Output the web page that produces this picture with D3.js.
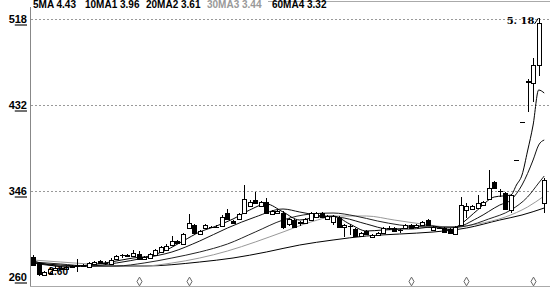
<!DOCTYPE html>
<html>
<head>
<meta charset="utf-8">
<script src="https://cdn.jsdelivr.net/npm/d3@7/dist/d3.min.js"></script>
<style>
  body { margin: 0; background: #fff; }
  svg { display: block; }
  .ma { fill: none; stroke-width: 1; }
  .legend text { font-family: "Liberation Sans Narrow", "Liberation Sans", Arial, sans-serif; font-weight: bold; font-size: 10px; }
  .ylab text { font-family: "Liberation Sans", Arial, sans-serif; font-weight: bold; font-size: 11px; }
</style>
</head>
<body>
<div id="chart"></div>
<script>
  // daily candles, price in yuan
  var opens  = [2.79,2.73,2.61,2.63,2.66,2.68,2.67,2.69,2.70,2.71,2.69,2.72,2.75,2.73,2.72,2.77,2.81,2.81,2.80,2.82,
                2.77,2.78,2.81,2.84,2.86,2.91,2.95,2.92,3.08,3.11,3.02,3.08,3.09,3.09,3.10,3.23,3.15,3.17,3.23,3.30,
                3.36,3.30,3.34,3.22,3.23,3.23,3.12,3.16,3.13,3.13,3.16,3.19,3.23,3.17,3.14,3.18,3.09,3.10,3.07,3.00,
                3.05,2.99,3.01,3.03,3.08,3.08,3.06,3.08,3.11,3.09,3.11,3.16,3.06,3.08,3.08,3.07,3.02,3.11,3.26,3.27,
                3.28,3.31,3.37,3.54,3.45,3.43,3.26,3.76,4.14,4.55,4.53,4.71,3.33];
  var highs  = [2.81,2.74,2.65,2.69,2.70,2.70,2.70,2.71,2.77,2.72,2.74,2.75,2.76,2.75,2.78,2.81,2.82,2.82,2.86,2.85,
                2.80,2.83,2.87,2.90,2.92,3.00,2.96,3.03,3.22,3.12,3.06,3.12,3.10,3.11,3.21,3.27,3.16,3.23,3.51,3.36,
                3.44,3.35,3.38,3.26,3.26,3.25,3.18,3.17,3.15,3.18,3.24,3.24,3.24,3.21,3.21,3.20,3.12,3.12,3.08,3.04,
                3.06,3.02,3.04,3.09,3.10,3.09,3.07,3.12,3.12,3.12,3.15,3.17,3.10,3.09,3.09,3.08,3.10,3.39,3.33,3.31,
                3.41,3.35,3.66,3.55,3.47,3.44,3.42,3.76,4.14,4.57,4.78,5.18,3.58];
  var lows   = [2.70,2.60,2.60,2.62,2.65,2.66,2.66,2.68,2.64,2.69,2.68,2.71,2.72,2.71,2.71,2.76,2.78,2.79,2.79,2.76,
                2.76,2.77,2.80,2.83,2.85,2.90,2.92,2.91,3.07,3.02,3.01,3.07,3.08,3.08,3.09,3.16,3.12,3.16,3.22,3.29,
                3.32,3.29,3.22,3.21,3.22,3.07,3.10,3.08,3.10,3.12,3.15,3.18,3.18,3.16,3.11,3.08,2.99,3.01,2.99,2.99,
                3.01,2.98,3.00,3.02,3.06,3.04,3.03,3.07,3.07,3.08,3.10,3.10,3.05,3.07,3.03,3.02,3.01,3.10,3.18,3.26,
                3.27,3.30,3.36,3.47,3.39,3.26,3.23,3.76,4.14,4.24,4.34,4.60,3.23];
  var closes = [2.71,2.62,2.64,2.67,2.68,2.67,2.69,2.70,2.71,2.70,2.73,2.74,2.73,2.73,2.76,2.80,2.81,2.80,2.83,2.77,
                2.79,2.82,2.86,2.89,2.90,2.95,2.93,3.02,3.13,3.03,3.05,3.11,3.09,3.09,3.19,3.17,3.13,3.22,3.37,3.34,
                3.33,3.34,3.23,3.25,3.25,3.09,3.17,3.09,3.14,3.17,3.23,3.23,3.19,3.20,3.20,3.09,3.11,3.10,3.00,3.03,
                3.02,3.01,3.03,3.08,3.08,3.05,3.06,3.11,3.08,3.11,3.14,3.11,3.09,3.08,3.04,3.03,3.09,3.31,3.30,3.30,
                3.33,3.34,3.48,3.48,3.45,3.27,3.41,3.76,4.14,4.54,4.71,5.13,3.56];

  // moving averages: [candle index, value]
  var ma5  = [[0,2.75],[3,2.71],[6,2.69],[10,2.71],[14,2.74],[18,2.78],[21,2.80],[24,2.86],[27,2.95],[30,3.04],
              [33,3.10],[36,3.17],[39,3.26],[42,3.32],[45,3.24],[48,3.16],[51,3.19],[54,3.20],[57,3.12],[60,3.05],
              [63,3.06],[66,3.07],[69,3.10],[72,3.10],[75,3.06],[77,3.12],[80,3.26],[83,3.39],[86,3.41],[87,3.51],
              [88,3.61],[89,3.85],[90,4.11],[91,4.46],[92,4.43]];
  var ma10 = [[0,2.73],[5,2.70],[10,2.70],[15,2.73],[20,2.78],[25,2.84],[30,2.95],[35,3.08],[40,3.19],[45,3.27],
              [48,3.24],[52,3.20],[56,3.18],[60,3.12],[64,3.07],[68,3.07],[72,3.09],[76,3.09],[80,3.18],[84,3.31],
              [86,3.36],[88,3.51],[90,3.76],[91,3.91],[92,3.96]];
  var ma20 = [[0,2.74],[5,2.72],[10,2.70],[15,2.70],[20,2.73],[25,2.78],[30,2.84],[35,2.92],[40,3.04],[45,3.16],
              [50,3.22],[54,3.23],[58,3.20],[62,3.15],[66,3.11],[70,3.09],[74,3.08],[78,3.10],[82,3.17],[86,3.26],
              [89,3.39],[91,3.53],[92,3.60]];
  var ma30 = [[0,2.76],[5,2.74],[10,2.72],[15,2.70],[20,2.70],[25,2.73],[30,2.78],[35,2.85],[40,2.94],[45,3.04],
              [50,3.14],[55,3.20],[60,3.20],[65,3.16],[70,3.12],[75,3.09],[80,3.12],[85,3.19],[89,3.29],[92,3.40]];
  var ma60 = [[0,2.73],[10,2.70],[20,2.70],[30,2.74],[36,2.78],[42,2.84],[48,2.91],[54,2.96],[60,3.00],[66,3.02],
              [72,3.04],[78,3.08],[84,3.16],[88,3.21],[92,3.28]];

  var maNames  = ['5MA', '10MA1', '20MA2', '30MA3', '60MA4'];
  var maLast   = ['4.43', '3.96', '3.61', '3.44', '3.32'];
  var tickVals = [5.18, 4.32, 3.46, 2.60];
  var markers  = [19, 28, 68, 78, 90];
  var highMark = 5.18, lowMark = 2.60;

  var W = 550, H = 288;
  var svg = d3.select('#chart').append('svg').attr('width', W).attr('height', H);

  var idx = d3.range(closes.length);
  var x = d3.scaleBand().domain(idx).range([30.2, 547]);
  var y = d3.scaleLinear().domain([2.60, 5.18]).range([276, 18]);
  var cx = function (i) { return Math.round(x(i) + x.bandwidth() / 2) + 0.5; };
  var bodyH = function (i) { return Math.round(Math.abs(y(opens[i]) - y(closes[i]))); };

  // frame
  svg.append('line').attr('x1', 30.5).attr('x2', 30.5).attr('y1', 7).attr('y2', 286)
    .attr('stroke', '#888');
  svg.append('line').attr('x1', 30).attr('x2', W).attr('y1', 286.5).attr('y2', 286.5)
    .attr('stroke', '#aaa');
  svg.append('line').attr('x1', 268).attr('x2', W).attr('y1', 1.5).attr('y2', 1.5)
    .attr('stroke', '#aaa');

  // dashed grid
  var grid = svg.append('g').attr('transform', 'translate(31,0)')
    .call(d3.axisLeft(y).tickValues(tickVals.slice(0, 3)).tickSize(-(W - 31)).tickFormat(''));
  grid.select('.domain').remove();
  grid.selectAll('line').attr('stroke', '#999').attr('stroke-dasharray', '2,2')
    .attr('shape-rendering', 'crispEdges').attr('transform', 'translate(0,0.5)');

  // y labels: big first digit, underlined rest
  var yl = svg.append('g').attr('class', 'ylab').attr('transform', 'translate(27,0)')
    .call(d3.axisLeft(y).tickValues(tickVals).tickSize(0).tickPadding(0));
  yl.select('.domain').remove();
  yl.selectAll('text').each(function (d) {
    var s = d3.format('.2f')(d).replace('.', ''), t = d3.select(this).text('');
    t.attr('fill', '#000').attr('dy', '0.45em');
    t.append('tspan').text(s.charAt(0));
    t.append('tspan').style('text-decoration', 'underline').text(s.slice(1));
  });

  // moving averages
  var line = d3.line()
    .x(function (d) { return x(d[0]) + x.bandwidth() / 2; })
    .y(function (d) { return y(d[1]); })
    .curve(d3.curveMonotoneX);
  var maSets = [ma60, ma30, ma20, ma10, ma5];
  var maCols = ['#000', '#999', '#222', '#111', '#000'];
  maSets.forEach(function (s, k) {
    svg.append('path').attr('class', 'ma').attr('d', line(s)).attr('stroke', maCols[k]);
  });

  // candles
  var candles = svg.append('g').selectAll('g').data(idx).enter().append('g');
  candles.append('line')
    .attr('x1', cx).attr('x2', cx)
    .attr('y1', function (i) { return y(highs[i]); })
    .attr('y2', function (i) { return y(lows[i]); })
    .attr('stroke', '#000').attr('shape-rendering', 'crispEdges');
  candles.filter(function (i) { return bodyH(i) > 0; }).append('rect')
    .attr('x', function (i) { return cx(i) - 2; })
    .attr('width', 4)
    .attr('y', function (i) { return Math.round(y(Math.max(opens[i], closes[i]))) + 0.5; })
    .attr('height', bodyH)
    .attr('fill', function (i) { return closes[i] > opens[i] ? '#fff' : '#000'; })
    .attr('stroke', '#000').attr('shape-rendering', 'crispEdges');
  // doji / one-price bars
  candles.filter(function (i) { return bodyH(i) === 0; }).append('line')
    .attr('x1', function (i) { return cx(i) - 2.5; })
    .attr('x2', function (i) { return cx(i) + 2.5; })
    .attr('y1', function (i) { return Math.round(y(closes[i])) + 0.5; })
    .attr('y2', function (i) { return Math.round(y(closes[i])) + 0.5; })
    .attr('stroke', '#000').attr('shape-rendering', 'crispEdges');

  // event markers
  svg.append('g').selectAll('path').data(markers).enter().append('path')
    .attr('d', d3.symbol(d3.symbolDiamond, 22))
    .attr('transform', function (i) { return 'translate(' + cx(i) + ',281.5)'; })
    .attr('fill', '#fff').attr('stroke', '#666');

  // high / low notes
  var hi = closes.indexOf(d3.max(closes)), lo = lows.indexOf(d3.min(lows));
  svg.append('text').attr('x', cx(hi) - 5).attr('y', y(highMark) + 6).attr('text-anchor', 'end')
    .style('font', 'bold 10px "DejaVu Serif", serif').text('5. 18');
  svg.append('line').attr('x1', cx(hi) - 5).attr('y1', y(highMark) + 6).attr('x2', cx(hi) - 1).attr('y2', y(highMark))
    .attr('stroke', '#000');
  svg.append('text').attr('x', cx(lo) + 9).attr('y', y(lowMark) - 1)
    .style('font', 'bold 10px "Liberation Sans", Arial, sans-serif').text(d3.format('.2f')(lowMark));

  // legend
  var lg = svg.append('g').attr('class', 'legend');
  var lgX = [33, 85, 146, 207, 272];
  maNames.forEach(function (n, k) {
    lg.append('text').attr('x', lgX[k]).attr('y', 8)
      .attr('fill', k === 3 ? '#999' : '#000')
      .text(n + ' ' + maLast[k]);
  });
</script>
</body>
</html>
